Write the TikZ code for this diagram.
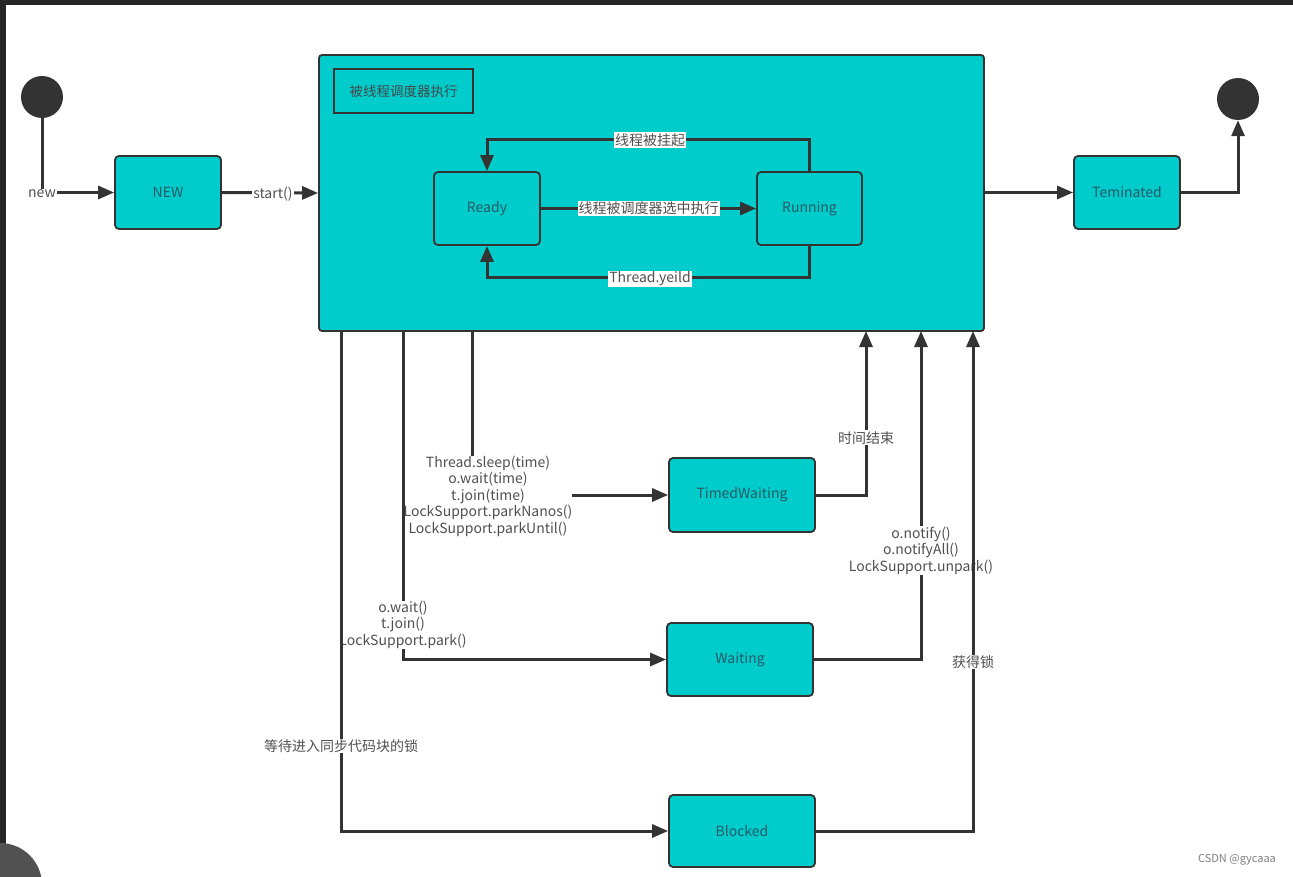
\documentclass[tikz,border=0pt]{standalone}
\usepackage{fontspec}
\setmainfont{Noto Sans CJK SC}
\usetikzlibrary{arrows.meta}
\definecolor{cteal}{RGB}{0,204,204}
\definecolor{cedge}{RGB}{51,51,51}
\definecolor{ctext}{RGB}{40,90,100}
\definecolor{clbl}{RGB}{80,80,80}
\definecolor{cframe}{RGB}{38,38,38}
\tikzset{
  statebox/.style={draw=cedge, line width=1.8pt, fill=cteal, rounded corners=4pt,
    text=ctext, font=\fontsize{14}{17}\selectfont, inner sep=0pt},
  conn/.style={draw=cedge, line width=3pt, -{Triangle[length=16pt,width=13pt]}},
  lbl/.style={fill=white, text=clbl, font=\fontsize{14}{16.5}\selectfont, inner sep=1pt, align=center},
  dot/.style={circle, fill=cedge, minimum size=42pt, inner sep=0pt},
}
\begin{document}
\begin{tikzpicture}[x=1pt,y=-1pt]
\useasboundingbox (0,0) rectangle (1293,877);
\fill[white] (0,0) rectangle (1293,877);
% screenshot frame
\fill[cframe] (0,0) rectangle (1293,5);
\fill[cframe] (0,0) rectangle (6,877);
\begin{scope}
\clip (0,0) rectangle (1293,877);
\fill[black!68] (0,885) circle (42);
\end{scope}

% big box
\node[draw=cedge, line width=1.8pt, fill=cteal, rounded corners=3pt,
  minimum width=665pt, minimum height=276pt, inner sep=0pt] (big) at (651.5,193) {};
\node[draw=cedge, line width=1.8pt, fill=cteal, minimum width=139pt, minimum height=44pt,
  font=\fontsize{13.5}{15}\selectfont, text=cedge!90] (title) at (403.5,91) {被线程调度器执行};

% pseudo states
\node[dot] (init) at (42,97) {};
\node[dot] (final) at (1238,99) {};

% states
\node[statebox, minimum width=106pt, minimum height=73pt] (new) at (168,192.5) {NEW};
\node[statebox, minimum width=106pt, minimum height=73pt] (ready) at (487,208.5) {Ready};
\node[statebox, minimum width=105pt, minimum height=73pt] (running) at (809.5,208.5) {Running};
\node[statebox, minimum width=106pt, minimum height=73pt] (term) at (1127,192.5) {Teminated};
\node[statebox, minimum width=146pt, minimum height=74pt] (timed) at (742,495) {TimedWaiting};
\node[statebox, minimum width=146pt, minimum height=73pt] (waiting) at (740,659.5) {Waiting};
\node[statebox, minimum width=146pt, minimum height=72pt] (blocked) at (742,831) {Blocked};

% helper coordinates
\coordinate (topY) at (650,140);
\coordinate (botY) at (650,278);
\coordinate (b1) at (341,331);
\coordinate (b2) at (403,331);
\coordinate (b3) at (472,331);
\coordinate (u1) at (866,331);
\coordinate (u2) at (921,331);
\coordinate (u3) at (973,331);

% outer connectors
\draw[conn] (init.south) |- node[lbl, pos=0.5, yshift=-1.5pt] {new} (new.west);
\draw[conn] (new.east) -- node[lbl, pos=0.53, yshift=-1pt] {start()} (big.west);
\draw[conn] (big.east |- term.west) -- (term.west);
\draw[conn] (term.east) -| (final.south);

% inner connectors
\draw[conn] (ready.east) -- node[lbl] {线程被调度器选中执行} (running.west);
\draw[conn] (running.north) |- (topY) node[lbl] {线程被挂起} -| (ready.north);
\draw[conn] (running.south) |- (botY) node[lbl, yshift=-1pt] {Thread.yeild} -| (ready.south);

% downward connectors (drawn right to left so each line stays above the previous label)
\draw[conn] (b3) |- node[lbl, pos=0.5, xshift=16pt, yshift=-1pt, inner sep=0pt] {Thread.sleep(time)\\o.wait(time)\\t.join(time)\\LockSupport.parkNanos()\\LockSupport.parkUntil()} (timed.west);
\draw[conn] (b2) |- node[lbl, pos=0.447, inner sep=0pt] {o.wait()\\t.join()\\LockSupport.park()} (waiting.west);
\draw[conn] (b1) |- node[lbl, pos=0.415] {等待进入同步代码块的锁} (blocked.west);

% upward connectors
\draw[conn] (timed.east) -| node[lbl, pos=0.674] {时间结束} (u1);
\draw[conn] (waiting.east) -| node[lbl, pos=0.666] {o.notify()\\o.notifyAll()\\LockSupport.unpark()} (u2);
\draw[conn] (blocked.east) -| node[lbl, pos=0.669] {获得锁} (u3);

% watermark
\node[text=black!50, font=\fontsize{11}{13}\selectfont, inner sep=0pt] (wm) at (1237,860) {CSDN @gycaaa};
\end{tikzpicture}
\end{document}
